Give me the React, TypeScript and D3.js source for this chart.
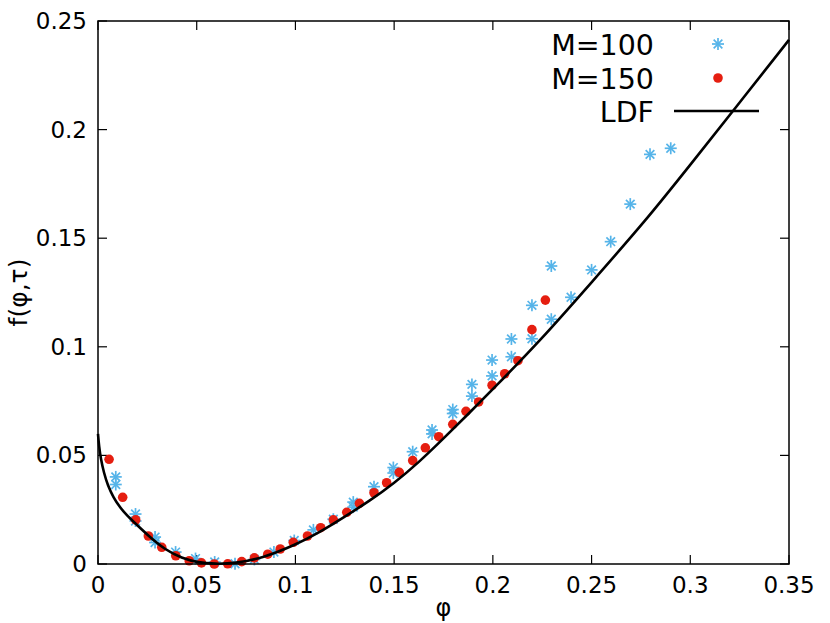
import React from "react";
import * as d3 from "d3";

// ---- Data ----
const m100Phi = [
  0.009, 0.009, 0.019, 0.019, 0.0289, 0.0289, 0.0393, 0.0494, 0.0591, 0.0694, 0.0792,
  0.0891, 0.0994, 0.1091, 0.1192, 0.1293, 0.1293, 0.1398, 0.1496, 0.1496, 0.1594,
  0.1692, 0.1692, 0.1797, 0.1797, 0.1894, 0.1894, 0.1996, 0.1996, 0.2094, 0.2094,
  0.2198, 0.2198, 0.2296, 0.2296, 0.2396, 0.25, 0.2597, 0.2696, 0.2796, 0.2901,
];
const m100F = [
  0.0401, 0.0366, 0.023, 0.0198, 0.0124, 0.0099, 0.0055, 0.0025, 0.0009, 0.0001, 0.0021,
  0.0055, 0.0108, 0.0157, 0.0206, 0.0285, 0.0262, 0.0356, 0.0444, 0.0419, 0.0517,
  0.0617, 0.0599, 0.0711, 0.0693, 0.0827, 0.0773, 0.0939, 0.0866, 0.1036, 0.0954,
  0.1191, 0.1037, 0.1372, 0.1127, 0.1228, 0.1354, 0.1484, 0.1657, 0.1886, 0.1914,
];

const m150Phi = [
  0.0056, 0.0125, 0.0191, 0.0255, 0.0323, 0.0394, 0.0462, 0.0524, 0.0589, 0.0657,
  0.0728, 0.0792, 0.086, 0.0923, 0.0989, 0.1061, 0.1128, 0.1192, 0.126, 0.1324,
  0.1398, 0.1462, 0.1526, 0.1594, 0.1658, 0.1726, 0.1797, 0.1864, 0.1928, 0.1996,
  0.206, 0.2127, 0.2198, 0.2266,
];
const m150F = [
  0.0482, 0.0307, 0.0203, 0.0129, 0.0077, 0.0038, 0.0015, 0.0005, 0.0, 0.0001,
  0.0011, 0.0028, 0.0045, 0.0069, 0.01, 0.0129, 0.0167, 0.0203, 0.0238, 0.0279,
  0.0328, 0.0374, 0.0422, 0.0476, 0.0535, 0.0586, 0.0643, 0.0703, 0.0746, 0.0823,
  0.0876, 0.0936, 0.1079, 0.1215,
];

const ldfPhi = [
  0, 0.0005, 0.0015, 0.003, 0.005, 0.0078, 0.011, 0.0145, 0.0188, 0.0255, 0.0339,
  0.0424, 0.0508, 0.0593, 0.0694, 0.0829, 0.1, 0.1125, 0.125, 0.1375, 0.15, 0.1625,
  0.175, 0.1875, 0.2, 0.2243, 0.25, 0.2777, 0.3, 0.3214, 0.35,
];
const ldfF = [
  0.0599, 0.0545, 0.048, 0.042, 0.036, 0.0307, 0.0262, 0.0225, 0.0188, 0.013, 0.0066,
  0.0027, 0.0006, 0, 0.0003, 0.0026, 0.0088, 0.0147, 0.0218, 0.029, 0.0372, 0.0468,
  0.0578, 0.069, 0.0805, 0.1031, 0.1297, 0.1584, 0.1838, 0.2083, 0.2413,
];

const xTicks = [0, 0.05, 0.1, 0.15, 0.2, 0.25, 0.3, 0.35];
const yTicks = [0, 0.05, 0.1, 0.15, 0.2, 0.25];
const legendLabels = ["M=100", "M=150", "LDF"];

// ---- Layout ----
const W = 830;
const H = 623;
const left = 98;
const right = 789;
const top = 21;
const bottom = 564;
const BLUE = "#56b4e9";
const RED = "#e51e10";
const FONT = "DejaVu Sans, sans-serif";

function Star({ x, y }: { x: number; y: number }) {
  const r = 6;
  const d = r * 0.72;
  return (
    <g stroke={BLUE} strokeWidth={1.7}>
      <line x1={x - r} y1={y} x2={x + r} y2={y} />
      <line x1={x} y1={y - r} x2={x} y2={y + r} />
      <line x1={x - d} y1={y - d} x2={x + d} y2={y + d} />
      <line x1={x - d} y1={y + d} x2={x + d} y2={y - d} />
    </g>
  );
}

export default function App() {
  const x = d3.scaleLinear().domain([0, 0.35]).range([left, right]);
  const y = d3.scaleLinear().domain([0, 0.25]).range([bottom, top]);

  const ldfData = ldfPhi.map((p, i) => [p, ldfF[i]] as [number, number]);
  const line = d3
    .line<[number, number]>()
    .x((d) => x(d[0]))
    .y((d) => y(d[1]))
    .curve(d3.curveBasis);

  const tickLen = 9;

  return (
    <svg
      width={W}
      height={H}
      style={{ position: "absolute", left: 0, top: 0, background: "#fff" }}
      fontFamily={FONT}
    >
      <rect x={0} y={0} width={W} height={H} fill="#fff" />
      {/* ticks */}
      {xTicks.map((t) => (
        <g key={"xt" + t} stroke="#000" strokeWidth={1.2}>
          <line x1={x(t)} x2={x(t)} y1={bottom} y2={bottom - tickLen} />
          <line x1={x(t)} x2={x(t)} y1={top} y2={top + tickLen} />
        </g>
      ))}
      {yTicks.map((t) => (
        <g key={"yt" + t} stroke="#000" strokeWidth={1.2}>
          <line x1={left} x2={left + tickLen} y1={y(t)} y2={y(t)} />
          <line x1={right} x2={right - tickLen} y1={y(t)} y2={y(t)} />
        </g>
      ))}
      {xTicks.map((t) => (
        <text key={"xl" + t} x={x(t)} y={593} fontSize={23} textAnchor="middle">
          {String(t)}
        </text>
      ))}
      {yTicks.map((t) => (
        <text key={"yl" + t} x={87} y={y(t) + 8} fontSize={23} textAnchor="end">
          {String(t)}
        </text>
      ))}
      {/* axis titles */}
      <text x={x(0.175)} y={616} fontSize={24} textAnchor="middle">
        φ
      </text>
      <text
        transform={`translate(27, ${(top + bottom) / 2}) rotate(-90)`}
        fontSize={25}
        textAnchor="middle"
      >
        f(φ,τ)
      </text>

      {/* data */}
      <g>
        {m100Phi.map((p, i) => (
          <Star key={"s" + i} x={x(p)} y={y(m100F[i])} />
        ))}
      </g>
      <g>
        {m150Phi.map((p, i) => (
          <circle key={"c" + i} cx={x(p)} cy={y(m150F[i])} r={4.8} fill={RED} />
        ))}
      </g>
      <path d={line(ldfData) || ""} fill="none" stroke="#000" strokeWidth={2.6} />

      {/* legend */}
      <text x={654} y={55} fontSize={28.5} textAnchor="end">
        {legendLabels[0]}
      </text>
      <Star x={718} y={44} />
      <text x={654} y={89} fontSize={28.5} textAnchor="end">
        {legendLabels[1]}
      </text>
      <circle cx={718} cy={78} r={4.8} fill={RED} />
      <text x={654} y={122} fontSize={28.5} textAnchor="end">
        {legendLabels[2]}
      </text>
      <line x1={674} x2={759} y1={111} y2={111} stroke="#000" strokeWidth={2.6} />

      {/* frame */}
      <rect
        x={left}
        y={top}
        width={right - left}
        height={bottom - top}
        fill="none"
        stroke="#000"
        strokeWidth={1.5}
      />
    </svg>
  );
}
